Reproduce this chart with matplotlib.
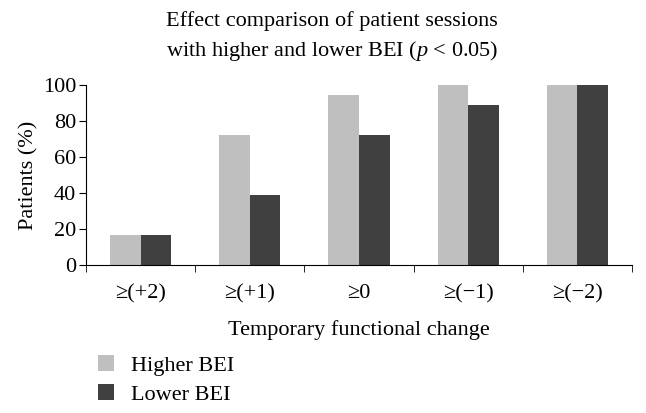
import numpy as np
import matplotlib
matplotlib.use("Agg")
import matplotlib.pyplot as plt

plt.rcParams['font.family'] = ['Liberation Serif', 'DejaVu Serif']
plt.rcParams['mathtext.fontset'] = 'custom'
plt.rcParams['mathtext.rm'] = 'Liberation Serif'
plt.rcParams['mathtext.it'] = 'Liberation Serif:italic'

# data (percent of patients)
categories = ['≥(+2)', '≥(+1)', '≥0', '≥(−1)', '≥(−2)']
higher_bei = [16.7, 72.2, 94.4, 100, 100]
lower_bei = [16.7, 38.9, 72.2, 88.9, 100]

fig = plt.figure(figsize=(6.46, 4.13), dpi=100)
ax = fig.add_axes([86 / 646, 1 - 265 / 413, (632 - 86) / 646, 180 / 413])

x = np.arange(len(categories))
w = 0.28
ax.bar(x - w / 2, higher_bei, w, color='#bfbfbf', label='Higher BEI')
ax.bar(x + w / 2, lower_bei, w, color='#404040', label='Lower BEI')

ax.set_xlim(-0.5, len(categories) - 0.5)
ax.set_ylim(0, 100)
ax.set_yticks(range(0, 101, 20))
ax.set_xticks(x)
ax.set_xticklabels(categories)
ax.set_xticks(np.arange(-0.5, len(categories)), minor=True)
ax.tick_params(axis='x', which='major', length=0, pad=14, labelsize=16)
ax.tick_params(axis='x', which='minor', length=5, direction='out')
ax.tick_params(axis='y', length=5, direction='out', labelsize=16, pad=2)

for s in ['top', 'right']:
    ax.spines[s].set_visible(False)

ax.set_xlabel('Temporary functional change', fontsize=16, labelpad=12)
ax.set_ylabel('Patients (%)', fontsize=16, labelpad=3)

fig.text(332 / 646, 1 - 21 / 413, 'Effect comparison of patient sessions',
         ha='center', va='center', fontsize=16)
fig.text(332 / 646, 1 - 51 / 413, 'with higher and lower BEI ($p$ < 0.05)',
         ha='center', va='center', fontsize=16)

fig.legend(loc='upper left', bbox_to_anchor=(78 / 646, 1 - 335 / 413),
           frameon=False, fontsize=16, handlelength=0.7, handleheight=0.7,
           labelspacing=0.4, handletextpad=0.8)

fig.savefig('out.png', dpi=100)
